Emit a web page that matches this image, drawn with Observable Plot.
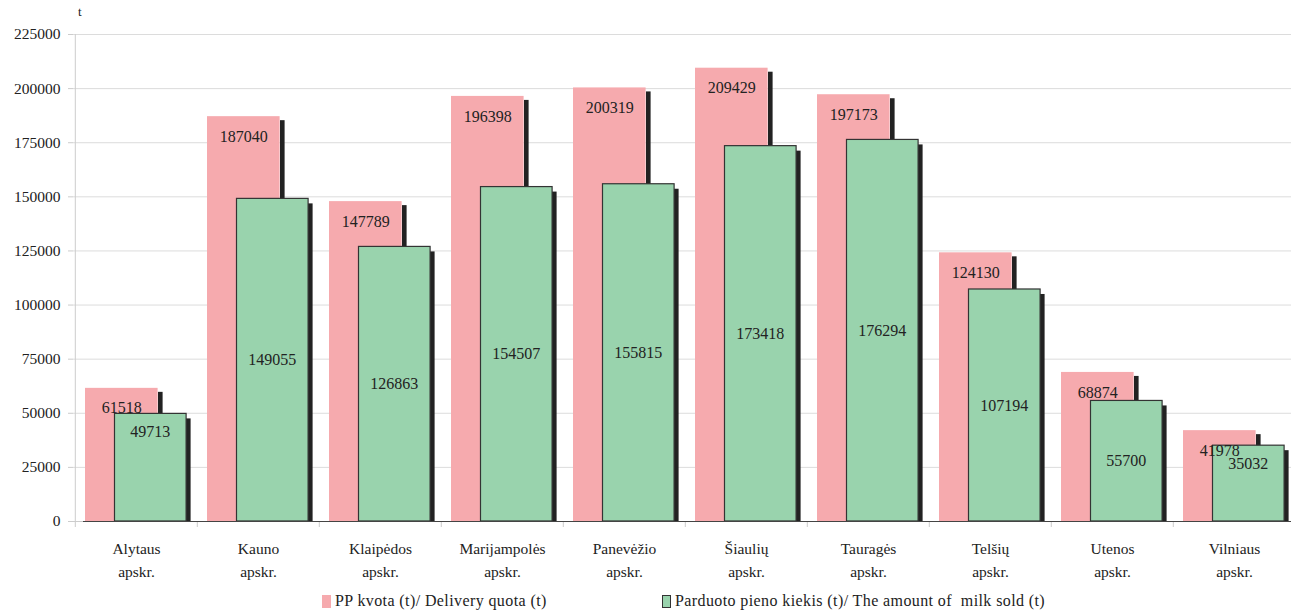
<!DOCTYPE html>
<html>
<head>
<meta charset="utf-8">
<script src="https://cdn.jsdelivr.net/npm/d3@7"></script>
<script src="https://cdn.jsdelivr.net/npm/@observablehq/plot@0.6"></script>
<style>
  body { margin: 0; background: #fff; }
  #wrap { position: relative; width: 1291px; height: 612px; font-family: "Liberation Serif", "Times New Roman", "DejaVu Serif", serif; color: #222; }
  #chart svg, #chart svg text { font-family: "Liberation Serif", "Times New Roman", "DejaVu Serif", serif !important; }
  #unit { position: absolute; left: 78px; top: 4px; font-size: 13px; }
  .leg { position: absolute; top: 592px; font-size: 16px; letter-spacing: 0.4px; display: flex; align-items: center; white-space: nowrap; }
  .sw { width: 9px; height: 13px; margin-right: 4px; box-sizing: border-box; }
</style>
</head>
<body>
<div id="wrap">
  <div id="chart"></div>
  <div id="unit">t</div>
  <div class="leg" style="left:322px"><div class="sw" style="background:#F6AAAE"></div>PP kvota (t)/ Delivery quota (t)</div>
  <div class="leg" style="left:662px"><div class="sw" style="background:#99D3AD;border:1px solid #333"></div>Parduoto pieno kiekis (t)/ The amount of&nbsp; milk sold (t)</div>
</div>
<script>
const categories = ["Alytaus apskr.", "Kauno apskr.", "Klaipėdos apskr.", "Marijampolės apskr.", "Panevėžio apskr.", "Šiaulių apskr.", "Tauragės apskr.", "Telšių apskr.", "Utenos apskr.", "Vilniaus apskr."];
const quota = [61518, 187040, 147789, 196398, 200319, 209429, 197173, 124130, 68874, 41978];
const sold = [49713, 149055, 126863, 154507, 155815, 173418, 176294, 107194, 55700, 35032];
const yTicks = [0, 25000, 50000, 75000, 100000, 125000, 150000, 175000, 200000, 225000];

const quotaData = categories.map((c, i) => ({cat: c, v: quota[i]}));
const soldData = categories.map((c, i) => ({cat: c, v: sold[i]}));
const soldTall = soldData.filter(d => d.v >= 53000);
const soldShort = soldData.filter(d => d.v < 53000);

const W = 1291, ML = 73, MR = -6;
const bw = (W - ML - MR) / categories.length;
const pink = "#F6AAAE", green = "#99D3AD", shadow = "#222";
const serif = "'Liberation Serif', 'Times New Roman', 'DejaVu Serif', serif";

const chart = Plot.plot({
  width: W,
  height: 582,
  marginLeft: ML,
  marginRight: MR,
  marginTop: 34,
  marginBottom: 61,
  style: {fontFamily: serif, fontSize: "15px", color: "#222", background: "#fff"},
  x: {domain: categories, padding: 0, label: null},
  y: {domain: [0, 225000], label: null},
  marks: [
    Plot.gridY(yTicks, {stroke: "#dcdcdc", strokeOpacity: 1}),
    Plot.axisY(yTicks, {tickSize: 5, tickPadding: 8, tickFormat: d => String(d), fontSize: 15.5, stroke: "#ccc", label: null}),
    Plot.ruleX([categories[0]], {dx: -bw / 2, stroke: "#ccc", insetBottom: -6}),
    Plot.ruleX(categories.slice(1), {dx: -bw / 2, y1: 0, y2: 0, insetBottom: -6, stroke: "#ccc"}),
    Plot.ruleY([0], {stroke: "#ccc", insetLeft: -5}),
    // quota shadow + bar
    Plot.barY(quotaData, {x: "cat", y: "v", fill: shadow, insetLeft: 83, insetRight: bw - 88, insetTop: 4}),
    Plot.barY(quotaData, {x: "cat", y: "v", fill: pink, insetLeft: 10, insetRight: bw - 83}),
    // sold shadow + bar
    Plot.barY(soldData, {x: "cat", y: "v", fill: shadow, insetLeft: 111, insetRight: bw - 116, insetTop: 5}),
    Plot.barY(soldData, {x: "cat", y: "v", fill: green, stroke: "#333", strokeWidth: 1.2, insetLeft: 39.5, insetRight: bw - 111.5}),
    Plot.ruleY([0], {stroke: "#444", insetLeft: 10, insetRight: 0}),
    // labels
    Plot.text(quotaData, {x: "cat", y: "v", text: d => String(d.v), dx: 46.5 - bw / 2, dy: 20, fontSize: 16, fill: "#222"}),
    Plot.text(soldTall, {x: "cat", y: d => d.v / 2, text: d => String(d.v), dx: 75 - bw / 2, fontSize: 16, fill: "#222"}),
    Plot.text(soldShort, {x: "cat", y: "v", text: d => String(d.v), dx: 75 - bw / 2, dy: 18, fontSize: 16, fill: "#222"}),
    Plot.axisX({tickSize: 0, tickPadding: 16, fontSize: 15.5, lineHeight: 1.5, tickFormat: d => d.replace(" ", "\n"), label: null})
  ]
});
document.getElementById("chart").appendChild(chart);
</script>
</body>
</html>
